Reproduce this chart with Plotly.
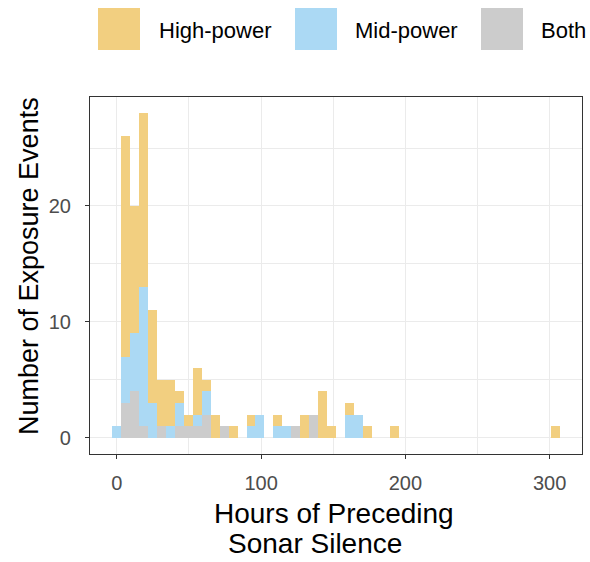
import plotly.graph_objects as go

# Histogram bins (centres, hours) - bin width 6.2 h
bin_width = 6.2
bin_centers = [0, 6.2, 12.4, 18.6, 24.8, 31, 37.2, 43.4, 49.6, 55.8,
               62, 68.2, 74.4, 80.6, 86.8, 93, 99.2, 105.4, 111.6, 117.8,
               124, 130.2, 136.4, 142.6, 148.8, 155, 161.2, 167.4, 173.6, 179.8,
               186, 192.2, 198.4, 204.6, 210.8, 217, 223.2, 229.4, 235.6, 241.8,
               248, 254.2, 260.4, 266.6, 272.8, 279, 285.2, 291.4, 297.6, 303.8]

high_power = [0, 19, 11, 15, 8, 4, 4, 1, 1, 4,
              1, 2, 0, 1, 0, 1, 0, 0, 1, 0,
              0, 2, 0, 4, 1, 0, 1, 0, 1, 0,
              0, 1, 0, 0, 0, 0, 0, 0, 0, 0,
              0, 0, 0, 0, 0, 0, 0, 0, 0, 1]
mid_power = [1, 4, 5, 12, 3, 0, 1, 2, 0, 1,
             2, 0, 0, 0, 0, 1, 2, 0, 1, 1,
             0, 0, 0, 0, 0, 0, 2, 2, 0, 0,
             0, 0, 0, 0, 0, 0, 0, 0, 0, 0,
             0, 0, 0, 0, 0, 0, 0, 0, 0, 0]
both = [0, 3, 4, 1, 0, 1, 0, 1, 1, 1,
        2, 0, 1, 0, 0, 0, 0, 0, 0, 0,
        1, 0, 2, 0, 0, 0, 0, 0, 0, 0,
        0, 0, 0, 0, 0, 0, 0, 0, 0, 0,
        0, 0, 0, 0, 0, 0, 0, 0, 0, 0]

series_names = ["High-power", "Mid-power", "Both"]
series_colors = ["#F2CF80", "#ABD9F4", "#CCCCCC"]

x_ticks = [0, 100, 200, 300]
y_ticks = [0, 10, 20]

FONT = "Liberation Sans, Arial, sans-serif"

fig = go.Figure()
# stacking: Both at bottom, Mid in the middle, High on top
for name, vals, col in [(series_names[2], both, series_colors[2]),
                        (series_names[1], mid_power, series_colors[1]),
                        (series_names[0], high_power, series_colors[0])]:
    fig.add_trace(go.Bar(x=bin_centers, y=vals, width=bin_width, name=name,
                         marker=dict(color=col, line=dict(width=0)),
                         showlegend=False, hoverinfo="skip"))

W, H = 590, 562
L, R, T, B = 90, 582, 97, 454

def px_x(p):
    return (p - L) / (R - L)

def px_y(p):
    return (B - p) / (B - T)

shapes = []
annotations = []
key_lefts = [98, 295, 481]
text_lefts = [157, 353, 539]
for i, name in enumerate(series_names):
    shapes.append(dict(type="rect", xref="paper", yref="paper",
                       x0=px_x(key_lefts[i]), x1=px_x(key_lefts[i] + 42),
                       y0=px_y(50), y1=px_y(8),
                       fillcolor=series_colors[i], line=dict(width=0)))
    annotations.append(dict(xref="paper", yref="paper", x=px_x(text_lefts[i]),
                            y=px_y(30.5), text=name, showarrow=False,
                            xanchor="left", yanchor="middle",
                            font=dict(family=FONT, size=22, color="#000000")))

# axis titles
annotations.append(dict(xref="paper", yref="paper", x=px_x(334), y=px_y(513),
                        text="Hours of Preceding", showarrow=False,
                        xanchor="center", yanchor="middle",
                        font=dict(family=FONT, size=28, color="#000000")))
annotations.append(dict(xref="paper", yref="paper", x=px_x(315), y=px_y(543),
                        text="Sonar Silence", showarrow=False,
                        xanchor="center", yanchor="middle",
                        font=dict(family=FONT, size=28, color="#000000")))
annotations.append(dict(xref="paper", yref="paper", x=px_x(29), y=px_y(266),
                        text="Number of Exposure Events", showarrow=False,
                        textangle=-90, xanchor="center", yanchor="middle",
                        font=dict(family=FONT, size=27, color="#000000")))

fig.update_layout(
    width=W, height=H,
    margin=dict(l=L, r=W - R, t=T, b=H - B, pad=0),
    paper_bgcolor="white", plot_bgcolor="white",
    barmode="stack", bargap=0,
    shapes=shapes, annotations=annotations,
    font=dict(family=FONT),
)
fig.update_xaxes(range=[-18.6, 322.4], tickvals=x_ticks,
                 ticks="outside", ticklen=4, tickwidth=1.1, tickcolor="#333333",
                 ticklabelstandoff=7,
                 tickfont=dict(family=FONT, size=20, color="#4D4D4D"),
                 showgrid=True, gridcolor="#EBEBEB", gridwidth=1.1,
                 minor=dict(tickvals=[50, 150, 250], showgrid=True,
                            gridcolor="#EBEBEB", gridwidth=0.6, ticks=""),
                 showline=True, linecolor="#333333", linewidth=1.1, mirror=True,
                 zeroline=False)
fig.update_yaxes(range=[-1.4, 29.4], tickvals=y_ticks,
                 ticks="outside", ticklen=4, tickwidth=1.1, tickcolor="#333333",
                 ticklabelstandoff=10,
                 tickfont=dict(family=FONT, size=20, color="#4D4D4D"),
                 showgrid=True, gridcolor="#EBEBEB", gridwidth=1.1,
                 minor=dict(tickvals=[5, 15, 25], showgrid=True,
                            gridcolor="#EBEBEB", gridwidth=0.6, ticks=""),
                 showline=True, linecolor="#333333", linewidth=1.1, mirror=True,
                 zeroline=False)

fig.write_html("out.html", config={"displayModeBar": False},
               post_script="document.body.style.margin='0';document.body.style.overflow='hidden';")
